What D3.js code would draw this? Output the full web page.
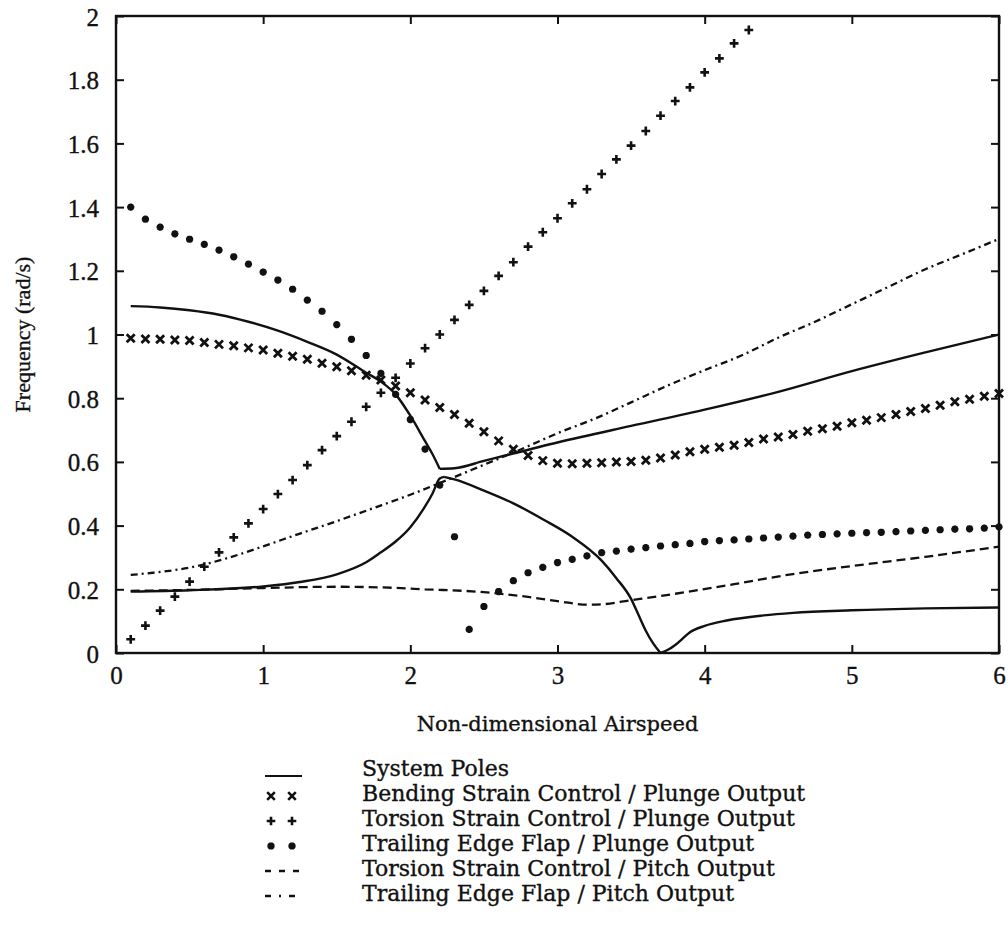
<!DOCTYPE html>
<html>
<head>
<meta charset="utf-8">
<script src="https://cdn.jsdelivr.net/npm/d3@7"></script>
<style>
  html, body { margin: 0; padding: 0; background: #fff; }
  svg { display: block; }
  text { stroke: #111; stroke-width: 0.35px; }
</style>
</head>
<body>
<svg id="chart" width="1008" height="928"></svg>
<script>
// ---- data -------------------------------------------------------------
const xTickValues = [0, 1, 2, 3, 4, 5, 6];
const xTickLabels = ["0", "1", "2", "3", "4", "5", "6"];
const yTickValues = [0, 0.2, 0.4, 0.6, 0.8, 1, 1.2, 1.4, 1.6, 1.8, 2];
const yTickLabels = ["0", "0.2", "0.4", "0.6", "0.8", "1", "1.2", "1.4", "1.6", "1.8", "2"];

// airspeed grid used by the marker series
const airspeed = [
  0.1, 0.2, 0.3, 0.4, 0.5, 0.6, 0.7, 0.8, 0.9, 1.0,
  1.1, 1.2, 1.3, 1.4, 1.5, 1.6, 1.7, 1.8, 1.9, 2.0,
  2.1, 2.2, 2.3, 2.4, 2.5, 2.6, 2.7, 2.8, 2.9, 3.0,
  3.1, 3.2, 3.3, 3.4, 3.5, 3.6, 3.7, 3.8, 3.9, 4.0,
  4.1, 4.2, 4.3, 4.4, 4.5, 4.6, 4.7, 4.8, 4.9, 5.0,
  5.1, 5.2, 5.3, 5.4, 5.5, 5.6, 5.7, 5.8, 5.9, 6.0
];

// Bending strain control / plunge output (x markers)
const bendingPlunge = [
  0.988, 0.986, 0.985, 0.983, 0.981, 0.975, 0.969, 0.965, 0.958, 0.951,
  0.941, 0.932, 0.922, 0.910, 0.899, 0.886, 0.872, 0.857, 0.838, 0.817,
  0.794, 0.771, 0.749, 0.721, 0.695, 0.666, 0.640, 0.620, 0.604, 0.596,
  0.594, 0.596, 0.597, 0.600, 0.601, 0.605, 0.612, 0.622, 0.632, 0.640,
  0.646, 0.652, 0.661, 0.672, 0.678, 0.686, 0.696, 0.704, 0.712, 0.723,
  0.731, 0.739, 0.749, 0.758, 0.768, 0.778, 0.789, 0.797, 0.806, 0.815
];

// Torsion strain control / plunge output (+ markers), 0.1 .. 4.3
const torsionPlunge = [
  0.043, 0.086, 0.133, 0.177, 0.224, 0.271, 0.316, 0.363, 0.407, 0.452,
  0.499, 0.543, 0.590, 0.637, 0.681, 0.726, 0.773, 0.817, 0.864, 0.909,
  0.957, 1.000, 1.046, 1.093, 1.137, 1.184, 1.227, 1.276, 1.321, 1.365,
  1.412, 1.456, 1.504, 1.550, 1.593, 1.639, 1.687, 1.733, 1.776, 1.823,
  1.867, 1.914, 1.956
];

// Trailing edge flap / plunge output (* markers)
const flapPlunge = [
  1.400, 1.362, 1.337, 1.316, 1.299, 1.283, 1.265, 1.244, 1.221, 1.196,
  1.171, 1.142, 1.108, 1.073, 1.031, 0.985, 0.934, 0.878, 0.812, 0.733,
  0.640, 0.527, 0.365, 0.074, 0.146, 0.193, 0.227, 0.252, 0.269, 0.284,
  0.294, 0.305, 0.315, 0.320, 0.326, 0.331, 0.336, 0.340, 0.344, 0.350,
  0.353, 0.355, 0.358, 0.361, 0.364, 0.367, 0.370, 0.372, 0.374, 0.376,
  0.378, 0.379, 0.381, 0.383, 0.385, 0.387, 0.389, 0.390, 0.392, 0.396
];

// Torsion strain control / pitch output (dashed)
const torsionPitch = [
  [0.1, 0.195], [0.5, 0.198], [1.0, 0.204], [1.5, 0.208], [1.8, 0.206],
  [2.1, 0.200], [2.5, 0.191], [2.8, 0.176], [3.0, 0.163], [3.2, 0.152],
  [3.3, 0.153], [3.5, 0.166], [3.8, 0.186], [4.2, 0.216], [4.6, 0.248],
  [5.0, 0.273], [5.5, 0.302], [6.0, 0.334]
];

// Trailing edge flap / pitch output (dash-dot)
const flapPitch = [
  [0.1, 0.245], [0.25, 0.252], [0.5, 0.268], [0.75, 0.297], [1.0, 0.335],
  [1.25, 0.375], [1.5, 0.414], [1.75, 0.455], [2.0, 0.497], [2.25, 0.543],
  [2.5, 0.591], [2.75, 0.639], [3.0, 0.690], [3.25, 0.735], [3.5, 0.787],
  [3.75, 0.840], [4.0, 0.888], [4.25, 0.934], [4.5, 0.990], [4.75, 1.040],
  [5.0, 1.095], [5.25, 1.150], [5.5, 1.205], [5.75, 1.252], [6.0, 1.300]
];

// System poles, drawn as smooth pieces joined at their corners
const polesUpperFall = [
  [0.1, 1.089], [0.3, 1.085], [0.5, 1.076], [0.7, 1.062], [0.9, 1.040],
  [1.1, 1.012], [1.3, 0.977], [1.5, 0.937], [1.7, 0.880], [1.8, 0.852],
  [1.9, 0.812], [2.0, 0.745], [2.1, 0.665], [2.15, 0.625], [2.2, 0.578]
];
const polesUpperRise = [
  [2.2, 0.578], [2.3, 0.580], [2.5, 0.603], [3.0, 0.661], [3.5, 0.713],
  [4.0, 0.764], [4.5, 0.820], [5.0, 0.885], [5.5, 0.944], [6.0, 1.000]
];
const polesLowerRise = [
  [0.1, 0.193], [0.5, 0.197], [1.0, 0.209], [1.25, 0.223], [1.5, 0.247],
  [1.7, 0.285], [1.8, 0.316], [1.9, 0.350], [2.0, 0.395], [2.1, 0.460],
  [2.15, 0.500], [2.2, 0.548], [2.23, 0.553]
];
const polesLowerFall = [
  [2.23, 0.553], [2.3, 0.545], [2.5, 0.510], [2.7, 0.470], [2.9, 0.420],
  [3.1, 0.365], [3.3, 0.290], [3.4, 0.235], [3.5, 0.170], [3.55, 0.120],
  [3.6, 0.070], [3.65, 0.030], [3.7, 0.000]
];
const polesLowerRecover = [
  [3.7, 0.000], [3.75, 0.010], [3.8, 0.025], [3.85, 0.045], [3.9, 0.065],
  [4.0, 0.085], [4.15, 0.102], [4.4, 0.118], [4.6, 0.126], [5.0, 0.134],
  [5.5, 0.140], [6.0, 0.143]
];

const legendLabels = [
  "System Poles",
  "Bending Strain Control / Plunge Output",
  "Torsion Strain Control / Plunge Output",
  "Trailing Edge Flap / Plunge Output",
  "Torsion Strain Control / Pitch Output",
  "Trailing Edge Flap / Pitch Output"
];

// ---- layout -----------------------------------------------------------
const plot = { left: 116, right: 999, top: 16, bottom: 653 };
const ink = "#111";
const tickFont = "'Liberation Serif', 'Times New Roman', serif";
const textFont = "'DejaVu Serif', serif";

const svg = d3.select("#chart");
const x = d3.scaleLinear().domain([0, 6]).range([plot.left, plot.right]);
const y = d3.scaleLinear().domain([0, 2]).range([plot.bottom, plot.top]);

// ---- axes (box with inward ticks) --------------------------------------
const tickLen = 8;
const axes = svg.append("g").attr("class", "axes");

const bottomAxis = d3.axisBottom(x).tickValues(xTickValues)
  .tickFormat((d, i) => xTickLabels[i]).tickSizeInner(-tickLen).tickSizeOuter(0).tickPadding(20);
const topAxis = d3.axisTop(x).tickValues(xTickValues)
  .tickFormat("").tickSizeInner(-tickLen).tickSizeOuter(0);
const leftAxis = d3.axisLeft(y).tickValues(yTickValues)
  .tickFormat((d, i) => yTickLabels[i]).tickSizeInner(-tickLen).tickSizeOuter(0).tickPadding(17);
const rightAxis = d3.axisRight(y).tickValues(yTickValues)
  .tickFormat("").tickSizeInner(-tickLen).tickSizeOuter(0);

const gB = axes.append("g").attr("transform", `translate(0,${plot.bottom})`).call(bottomAxis);
const gT = axes.append("g").attr("transform", `translate(0,${plot.top})`).call(topAxis);
const gL = axes.append("g").attr("transform", `translate(${plot.left},0)`).call(leftAxis);
const gR = axes.append("g").attr("transform", `translate(${plot.right},0)`).call(rightAxis);

[gB, gT, gL, gR].forEach(g => {
  g.select(".domain").remove();
  g.selectAll(".tick line").attr("stroke", ink).attr("stroke-width", 2);
  g.selectAll(".tick text")
    .attr("fill", ink)
    .style("font-family", tickFont)
    .style("font-size", "25px");
});
gB.selectAll(".tick text").attr("dy", "0.45em");
gL.selectAll(".tick text").attr("dy", "0.36em");

axes.append("rect")
  .attr("x", plot.left).attr("y", plot.top)
  .attr("width", plot.right - plot.left).attr("height", plot.bottom - plot.top)
  .attr("fill", "none").attr("stroke", ink).attr("stroke-width", 2.4);

// ---- axis titles --------------------------------------------------------
svg.append("text")
  .attr("x", (plot.left + plot.right) / 2).attr("y", 731)
  .attr("text-anchor", "middle")
  .attr("fill", ink)
  .style("font-family", textFont).style("font-size", "21px")
  .text("Non-dimensional Airspeed");

svg.append("text")
  .attr("transform", `translate(30,${(plot.top + plot.bottom) / 2}) rotate(-90)`)
  .attr("text-anchor", "middle")
  .attr("fill", ink)
  .style("font-family", tickFont).style("font-size", "22px")
  .text("Frequency (rad/s)");

// ---- lines --------------------------------------------------------------
const line = d3.line().x(d => x(d[0])).y(d => y(d[1])).curve(d3.curveMonotoneX);
const lines = svg.append("g").attr("fill", "none").attr("stroke", ink)
  .attr("stroke-linejoin", "round");

[polesUpperFall, polesUpperRise, polesLowerRise, polesLowerFall, polesLowerRecover]
  .forEach(seg => lines.append("path").attr("d", line(seg)).attr("stroke-width", 2.4));

lines.append("path").attr("d", line(torsionPitch))
  .attr("stroke-width", 2.3).attr("stroke-dasharray", "9,5");

lines.append("path").attr("d", line(flapPitch))
  .attr("stroke-width", 2.3).attr("stroke-dasharray", "7,4,2,4");

// ---- markers ------------------------------------------------------------
const markerPaths = {
  cross: s => `M${-s},${-s}L${s},${s}M${-s},${s}L${s},${-s}`,
  plus: s => `M${-s},0L${s},0M0,${-s}L0,${s}`,
  star: s => {
    const d = s * 0.72;
    return `M${-s},0L${s},0M0,${-s}L0,${s}M${-d},${-d}L${d},${d}M${-d},${d}L${d},${-d}`;
  }
};

function drawMarkers(values, kind, size, width) {
  const pts = values.map((v, i) => [airspeed[i], v]);
  svg.append("g").selectAll("path").data(pts).join("path")
    .attr("transform", d => `translate(${x(d[0])},${y(d[1])})`)
    .attr("d", markerPaths[kind](size))
    .attr("fill", "none").attr("stroke", ink)
    .attr("stroke-width", width).attr("stroke-linecap", "butt");
}

drawMarkers(bendingPlunge, "cross", 4.0, 2.8);
drawMarkers(torsionPlunge, "plus", 4.4, 2.6);
drawMarkers(flapPlunge, "star", 3.6, 2.4);

// ---- legend -------------------------------------------------------------
const legend = svg.append("g");
const legendTop = 776;
const legendStep = 25;
const symX0 = 265, symX1 = 302, textX = 362;

legendLabels.forEach((label, i) => {
  const yy = legendTop + i * legendStep;
  const g = legend.append("g");
  if (i === 0) {
    g.append("line").attr("x1", symX0).attr("x2", symX1)
      .attr("y1", yy).attr("y2", yy)
      .attr("stroke", ink).attr("stroke-width", 2.2);
  } else if (i <= 3) {
    const kind = ["cross", "plus", "star"][i - 1];
    const size = [3.8, 4.3, 3.6][i - 1];
    [symX0 + 6, symX0 + 27].forEach(px => {
      g.append("path")
        .attr("transform", `translate(${px},${yy - 5})`)
        .attr("d", markerPaths[kind](size))
        .attr("fill", "none").attr("stroke", ink).attr("stroke-width", 2.6);
    });
  } else if (i === 4) {
    g.append("line").attr("x1", symX0).attr("x2", symX1)
      .attr("y1", yy - 5).attr("y2", yy - 5)
      .attr("stroke", ink).attr("stroke-width", 2.4).attr("stroke-dasharray", "6,8");
  } else {
    g.append("line").attr("x1", symX0).attr("x2", symX0 + 30)
      .attr("y1", yy - 5).attr("y2", yy - 5)
      .attr("stroke", ink).attr("stroke-width", 2.4).attr("stroke-dasharray", "6,8,2,8,6");
  }
  g.append("text")
    .attr("x", textX).attr("y", yy)
    .attr("fill", ink)
    .style("font-family", textFont).style("font-size", "22px")
    .text(label);
});
</script>
</body>
</html>
